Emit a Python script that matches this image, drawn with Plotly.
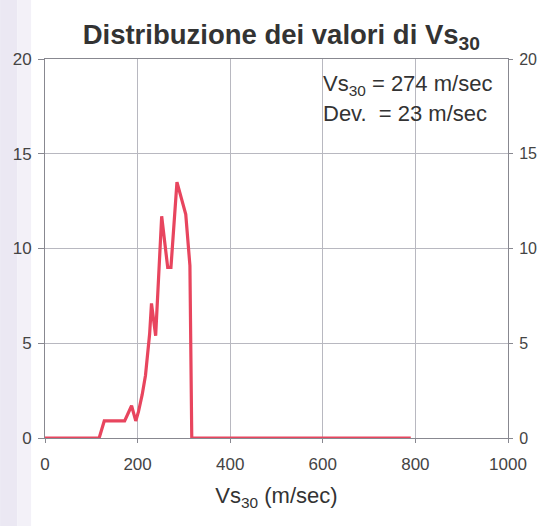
import plotly.graph_objects as go

# Data
vs30 = [0, 117, 128, 172, 187, 196, 202, 210, 217, 226, 230, 239, 252, 265, 272, 285, 304, 313, 317, 790]
freq = [0, 0, 0.9, 0.9, 1.7, 0.9, 1.4, 2.3, 3.3, 5.5, 7.1, 5.4, 11.7, 9.0, 9.0, 13.5, 11.8, 9.1, 0, 0]
x_ticks = [0, 200, 400, 600, 800, 1000]
y_ticks = [0, 5, 10, 15, 20]

RED = "#e8455e"
GRID = "#b8b8c0"
FONT = "Liberation Sans, Arial, sans-serif"

fig = go.Figure()
fig.add_trace(go.Scatter(x=vs30, y=freq, mode="lines",
                         line=dict(color=RED, width=3.2), showlegend=False))
# invisible trace on the right axis so its ticks render
fig.add_trace(go.Scatter(x=[0], y=[0], yaxis="y2", mode="markers",
                         marker=dict(opacity=0), showlegend=False, hoverinfo="skip"))

fig.update_layout(
    width=541, height=526,
    margin=dict(l=45, r=33, t=59, b=88, autoexpand=False),
    paper_bgcolor="white", plot_bgcolor="white",
    font=dict(family=FONT, color="#3a3a3a"),
    title=dict(text="Distribuzione dei valori di Vs<sub>30</sub>", automargin=False,
               x=0.52, xanchor="center", y=0.935, yanchor="middle",
               font=dict(size=27.5, color="#333333", family=FONT, weight="bold")),
    xaxis=dict(range=[0, 1000], tickvals=x_ticks, showgrid=True, gridcolor=GRID,
               gridwidth=1, showline=True, linecolor="#888890", linewidth=1,
               mirror=True, ticks="outside", ticklen=4, tickcolor="#888890",
               ticklabelstandoff=7, automargin=False,
               tickfont=dict(size=17, color="#444444"), zeroline=False,
               title=dict(text="Vs<sub>30</sub> (m/sec)", font=dict(size=22, color="#333333"),
                          standoff=14)),
    yaxis=dict(range=[0, 20], tickvals=y_ticks, showgrid=True, gridcolor=GRID,
               gridwidth=1, showline=True, linecolor="#888890", linewidth=1,
               ticks="outside", ticklen=6, tickcolor="#888890", ticklabelstandoff=3,
               automargin=False,
               tickfont=dict(size=17, color="#444444"), zeroline=False),
    yaxis2=dict(range=[0, 20], tickvals=y_ticks, overlaying="y", side="right",
                showgrid=False, showline=True, linecolor="#888890", linewidth=1,
                ticks="outside", ticklen=4, tickcolor="#888890", ticklabelstandoff=3,
                automargin=False,
                tickfont=dict(size=16, color="#444444"), zeroline=False),
    shapes=[
        dict(type="rect", xref="paper", yref="paper", x0=-0.097, x1=-0.06,
             y0=-0.233, y1=1.156, fillcolor="#ebe8f3", line=dict(width=0), layer="below"),
        dict(type="rect", xref="paper", yref="paper", x0=-0.06, x1=-0.03,
             y0=-0.233, y1=1.156, fillcolor="#f3f1f8", line=dict(width=0), layer="below"),
    ],
    annotations=[
        dict(text="Vs<sub>30</sub> = 274 m/sec", xref="paper", yref="paper",
             x=0.596, y=0.931, xanchor="left", yanchor="middle", showarrow=False,
             font=dict(size=22, color="#333333")),
        dict(text="Dev.  = 23 m/sec", xref="paper", yref="paper",
             x=0.596, y=0.857, xanchor="left", yanchor="middle", showarrow=False,
             font=dict(size=22, color="#333333")),
    ],
)

fig.write_html("out.html")
